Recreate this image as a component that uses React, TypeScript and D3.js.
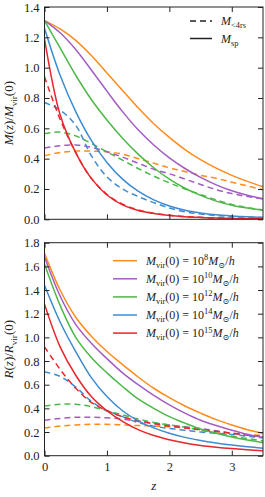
import React, { useEffect, useRef } from "react";
import * as d3 from "d3";

// redshift grid shared by every curve
const zs = [0, 0.25, 0.5, 0.75, 1, 1.25, 1.5, 1.75, 2, 2.25, 2.5, 2.75, 3, 3.25, 3.5];

const massLabels = ["8", "10", "12", "14", "15"];
const colors = ["#ff8b1c", "#a45cc2", "#4db848", "#3e8bd0", "#e8262b"];

// top panel: M_sp (solid) and M_<4rs (dashed)
const mSp = [
  [1.31, 1.255, 1.18, 1.08, 0.965, 0.85, 0.735, 0.63, 0.54, 0.46, 0.393, 0.337, 0.29, 0.25, 0.215],
  [1.31, 1.23, 1.12, 0.985, 0.845, 0.71, 0.59, 0.49, 0.405, 0.335, 0.276, 0.227, 0.188, 0.158, 0.135],
  [1.31, 1.13, 0.95, 0.79, 0.655, 0.535, 0.43, 0.34, 0.265, 0.205, 0.158, 0.12, 0.093, 0.074, 0.06],
  [1.26, 0.95, 0.71, 0.52, 0.375, 0.265, 0.185, 0.128, 0.088, 0.06, 0.042, 0.03, 0.022, 0.016, 0.012],
  [1.19, 0.69, 0.44, 0.27, 0.16, 0.095, 0.058, 0.038, 0.025, 0.017, 0.012, 0.008, 0.006, 0.004, 0.003],
];
const m4rs = [
  [0.42, 0.44, 0.45, 0.45, 0.445, 0.43, 0.4, 0.37, 0.34, 0.315, 0.29, 0.27, 0.245, 0.22, 0.195],
  [0.47, 0.485, 0.49, 0.475, 0.445, 0.41, 0.37, 0.33, 0.3, 0.265, 0.23, 0.195, 0.17, 0.15, 0.135],
  [0.565, 0.575, 0.55, 0.5, 0.445, 0.39, 0.335, 0.285, 0.24, 0.2, 0.163, 0.128, 0.098, 0.077, 0.062],
  [0.77, 0.72, 0.62, 0.42, 0.28, 0.2, 0.15, 0.11, 0.075, 0.05, 0.035, 0.025, 0.019, 0.015, 0.012],
  [0.94, 0.66, 0.44, 0.27, 0.165, 0.1, 0.062, 0.04, 0.027, 0.018, 0.013, 0.009, 0.007, 0.005, 0.004],
];

// bottom panel: R_sp (solid) and R_<4rs (dashed)
const rSp = [
  [1.71, 1.4, 1.17, 1.01, 0.88, 0.77, 0.665, 0.57, 0.49, 0.42, 0.36, 0.305, 0.26, 0.22, 0.19],
  [1.68, 1.35, 1.11, 0.95, 0.82, 0.7, 0.6, 0.51, 0.43, 0.36, 0.3, 0.255, 0.215, 0.18, 0.155],
  [1.62, 1.27, 1.0, 0.83, 0.7, 0.585, 0.48, 0.4, 0.33, 0.275, 0.225, 0.19, 0.158, 0.132, 0.11],
  [1.44, 1.13, 0.88, 0.66, 0.5, 0.38, 0.295, 0.235, 0.19, 0.155, 0.128, 0.107, 0.09, 0.075, 0.063],
  [1.28, 0.92, 0.68, 0.5, 0.38, 0.29, 0.22, 0.17, 0.135, 0.107, 0.087, 0.072, 0.06, 0.05, 0.042],
];
const r4rs = [
  [0.235, 0.25, 0.26, 0.265, 0.265, 0.26, 0.255, 0.25, 0.245, 0.235, 0.22, 0.205, 0.19, 0.18, 0.17],
  [0.3, 0.315, 0.325, 0.325, 0.32, 0.31, 0.29, 0.275, 0.26, 0.245, 0.23, 0.21, 0.19, 0.175, 0.16],
  [0.42, 0.435, 0.435, 0.415, 0.38, 0.345, 0.31, 0.28, 0.26, 0.24, 0.215, 0.19, 0.165, 0.145, 0.125],
  [0.71, 0.67, 0.58, 0.46, 0.38, 0.33, 0.28, 0.25, 0.23, 0.215, 0.2, 0.19, 0.18, 0.165, 0.15],
  [0.92, 0.73, 0.57, 0.45, 0.38, 0.33, 0.295, 0.27, 0.25, 0.235, 0.22, 0.205, 0.19, 0.175, 0.16],
];

const xTicks = [0, 1, 2, 3];
const topTicks = [0, 0.2, 0.4, 0.6, 0.8, 1.0, 1.2, 1.4];
const bottomTicks = [0, 0.2, 0.4, 0.6, 0.8, 1.0, 1.2, 1.4, 1.6, 1.8];

const FONT = "'Liberation Serif', 'DejaVu Serif', serif";

type Seg = { t: string; it?: boolean; sub?: boolean; sup?: boolean };

// write math-ish text as tspans, shifting sub/superscripts with dy
function richText(sel: any, segs: Seg[], size: number) {
  let shift = 0;
  segs.forEach((s) => {
    const target = s.sub ? size * 0.28 : s.sup ? -size * 0.38 : 0;
    sel
      .append("tspan")
      .attr("dy", target - shift)
      .attr("font-style", s.it ? "italic" : "normal")
      .attr("font-size", s.sub || s.sup ? size * 0.7 : size)
      .text(s.t);
    shift = target;
  });
}

export default function App() {
  const ref = useRef<SVGSVGElement>(null);

  useEffect(() => {
    const svg = d3.select(ref.current);
    svg.selectAll("*").remove();

    const x = d3.scaleLinear().domain([0, 3.5]).range([44.5, 263]);

    const panels = [
      { top: 7, bottom: 219.3, max: 1.4, ticks: topTicks, solid: mSp, dashed: m4rs, xLabels: false },
      { top: 242.7, bottom: 455.7, max: 1.8, ticks: bottomTicks, solid: rSp, dashed: r4rs, xLabels: true },
    ];

    panels.forEach((p) => {
      const y = d3.scaleLinear().domain([0, p.max]).range([p.bottom, p.top]);
      const g = svg.append("g");

      g.append("defs")
        .append("clipPath")
        .attr("id", "clip" + p.top)
        .append("rect")
        .attr("x", x(0))
        .attr("y", p.top)
        .attr("width", x(3.5) - x(0))
        .attr("height", p.bottom - p.top);

      const line = d3
        .line<number>()
        .x((_, i) => x(zs[i]))
        .y((d) => y(d))
        .curve(d3.curveCatmullRom.alpha(0.5));

      const curves = g.append("g").attr("clip-path", `url(#clip${p.top})`);
      p.dashed.forEach((vals, i) => {
        curves
          .append("path")
          .attr("d", line(vals))
          .attr("fill", "none")
          .attr("stroke", colors[i])
          .attr("stroke-width", 1.5)
          .attr("stroke-dasharray", "6,4");
      });
      p.solid.forEach((vals, i) => {
        curves
          .append("path")
          .attr("d", line(vals))
          .attr("fill", "none")
          .attr("stroke", colors[i])
          .attr("stroke-width", 1.5);
      });

      // frame
      g.append("rect")
        .attr("x", x(0))
        .attr("y", p.top)
        .attr("width", x(3.5) - x(0))
        .attr("height", p.bottom - p.top)
        .attr("fill", "none")
        .attr("stroke", "#222")
        .attr("stroke-width", 1);

      const yAxis = d3
        .axisLeft(y)
        .tickValues(p.ticks)
        .tickFormat(d3.format(".1f") as any)
        .tickSizeInner(-5)
        .tickSizeOuter(0)
        .tickPadding(5);
      const ya = g.append("g").attr("transform", `translate(${x(0)},0)`).call(yAxis);
      const yRight = g
        .append("g")
        .attr("transform", `translate(${x(3.5)},0)`)
        .call(d3.axisRight(y).tickValues(p.ticks).tickSizeInner(-5).tickSizeOuter(0).tickFormat(() => ""));

      const xb = g
        .append("g")
        .attr("transform", `translate(0,${p.bottom})`)
        .call(
          d3
            .axisBottom(x)
            .tickValues(xTicks)
            .tickSizeInner(-5)
            .tickSizeOuter(0)
            .tickPadding(6)
            .tickFormat((d: any) => (p.xLabels ? String(d) : ""))
        );
      const xt = g
        .append("g")
        .attr("transform", `translate(0,${p.top})`)
        .call(d3.axisTop(x).tickValues(xTicks).tickSizeInner(-5).tickSizeOuter(0).tickFormat(() => ""));

      [ya, yRight, xb, xt].forEach((a) => {
        a.select(".domain").remove();
        a.selectAll("line").attr("stroke", "#222");
        a.selectAll("text").attr("font-family", FONT).attr("font-size", 12.5).attr("fill", "#222");
      });
    });

    // axis labels
    const yl1 = svg
      .append("text")
      .attr("transform", `translate(13,${(7 + 219.3) / 2}) rotate(-90)`)
      .attr("text-anchor", "middle")
      .attr("font-family", FONT)
      .attr("fill", "#222");
    richText(
      yl1,
      [
        { t: "M", it: true },
        { t: "(" },
        { t: "z", it: true },
        { t: ")/" },
        { t: "M", it: true },
        { t: "vir", sub: true },
        { t: "(0)" },
      ],
      13
    );
    const yl2 = svg
      .append("text")
      .attr("transform", `translate(13,${(242.7 + 455.7) / 2}) rotate(-90)`)
      .attr("text-anchor", "middle")
      .attr("font-family", FONT)
      .attr("fill", "#222");
    richText(
      yl2,
      [
        { t: "R", it: true },
        { t: "(" },
        { t: "z", it: true },
        { t: ")/" },
        { t: "R", it: true },
        { t: "vir", sub: true },
        { t: "(0)" },
      ],
      13
    );
    svg
      .append("text")
      .attr("x", x(1.75))
      .attr("y", 490)
      .attr("text-anchor", "middle")
      .attr("font-family", FONT)
      .attr("font-style", "italic")
      .attr("font-size", 13)
      .attr("fill", "#222")
      .text("z");

    // top legend: line styles
    const styleLegend = [
      { dash: "6,4", segs: [{ t: "M", it: true }, { t: "<4rs", sub: true }] },
      { dash: null, segs: [{ t: "M", it: true }, { t: "sp", sub: true }] },
    ];
    styleLegend.forEach((l, i) => {
      const yy = 21 + i * 17.5;
      svg
        .append("line")
        .attr("x1", 190)
        .attr("x2", 212)
        .attr("y1", yy)
        .attr("y2", yy)
        .attr("stroke", "#222")
        .attr("stroke-width", 1.5)
        .attr("stroke-dasharray", l.dash);
      const t = svg
        .append("text")
        .attr("x", 221)
        .attr("y", yy + 4)
        .attr("font-family", FONT)
        .attr("fill", "#222");
      richText(t, l.segs, 12);
    });

    // bottom legend: halo masses
    massLabels.forEach((m, i) => {
      const yy = 260.7 + i * 18.1;
      svg
        .append("line")
        .attr("x1", 113)
        .attr("x2", 137)
        .attr("y1", yy)
        .attr("y2", yy)
        .attr("stroke", colors[i])
        .attr("stroke-width", 1.5);
      const t = svg
        .append("text")
        .attr("x", 146)
        .attr("y", yy + 4)
        .attr("font-family", FONT)
        .attr("fill", "#222");
      richText(
        t,
        [
          { t: "M", it: true },
          { t: "vir", sub: true },
          { t: "(0) = 10" },
          { t: m, sup: true },
          { t: "M", it: true },
          { t: "⊙", sub: true },
          { t: "/" },
          { t: "h", it: true },
        ],
        12
      );
    });
  }, []);

  return (
    <svg
      ref={ref}
      width={265}
      height={497}
      style={{ position: "absolute", left: 0, top: 0, background: "#fff" }}
    />
  );
}
